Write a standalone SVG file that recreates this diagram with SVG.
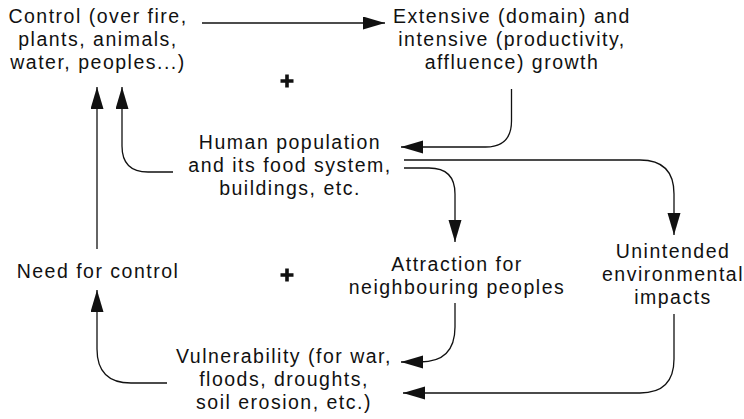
<svg xmlns="http://www.w3.org/2000/svg" width="744" height="419" viewBox="0 0 744 419">
<style>
text{font-family:"Liberation Sans",Arial,sans-serif;font-size:19.5px;letter-spacing:1.5px;fill:#111;text-anchor:middle}
.c{fill:none;stroke:#111;stroke-width:1.3}
.a{marker-end:url(#ah)}
.plus{stroke:#111;stroke-width:3.6}
</style>
<defs>
<marker id="ah" markerUnits="userSpaceOnUse" markerWidth="24" markerHeight="14" refX="22" refY="6.5" orient="auto">
<path d="M0,0 L22,6.5 L0,13 Z" fill="#111"/>
</marker>
</defs>
<rect width="744" height="419" fill="#fff"/>
<g id="control">
<text x="98" y="23">Control (over fire,</text>
<text x="98" y="46">plants, animals,</text>
<text x="98" y="69">water, peoples...)</text>
</g>
<g id="growth">
<text x="512" y="23">Extensive (domain) and</text>
<text x="512" y="46">intensive (productivity,</text>
<text x="512" y="69">affluence) growth</text>
</g>
<g id="population">
<text x="290" y="149">Human population</text>
<text x="290" y="172">and its food system,</text>
<text x="290" y="195">buildings, etc.</text>
</g>
<g id="need">
<text x="98" y="278">Need for control</text>
</g>
<g id="attraction">
<text x="457" y="271">Attraction for</text>
<text x="457" y="294">neighbouring peoples</text>
</g>
<g id="impacts">
<text x="673" y="258">Unintended</text>
<text x="673" y="281">environmental</text>
<text x="673" y="304">impacts</text>
</g>
<g id="vulnerability">
<text x="284" y="363">Vulnerability (for war,</text>
<text x="284" y="386">floods, droughts,</text>
<text x="284" y="409">soil erosion, etc.)</text>
</g>
<g id="plus1"><path class="plus" d="M280.5,81 H293.5 M287,74.5 V87.5"/></g>
<g id="plus2"><path class="plus" d="M280.5,275 H293.5 M287,268.5 V281.5"/></g>
<g id="connectors">
<path class="c a" d="M202,23 H385"/>
<path class="c a" d="M511.5,89 V121 Q511.5,147 485.5,147 H401"/>
<path class="c a" d="M404,160 H640 Q674,160 674,194 V235"/>
<path class="c a" d="M404,168 H429 Q455,168 455,194 V242"/>
<path class="c a" d="M173,172 H148 Q122,172 122,146 V87"/>
<path class="c a" d="M97,249 V87"/>
<path class="c a" d="M167,383 H131 Q97,383 97,349 V290"/>
<path class="c a" d="M455,303 V327 Q455,362 420,362 H401"/>
<path class="c a" d="M674,314 V359 Q674,393 640,393 H403"/>
</g>
</svg>
